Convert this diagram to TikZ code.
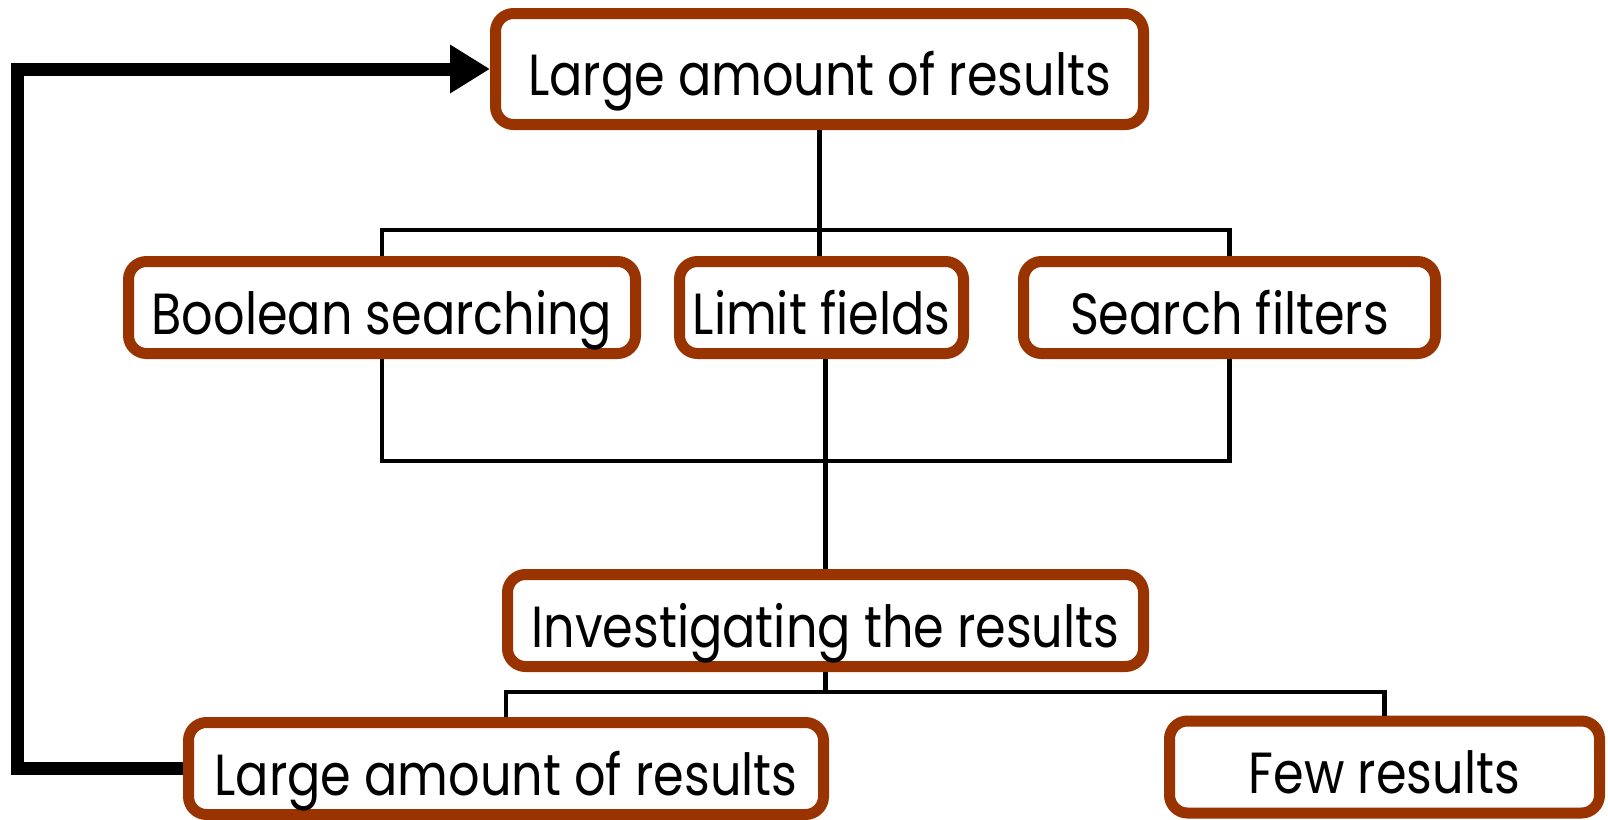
\documentclass[tikz,border=0pt]{standalone}
\usepackage{fontspec}
\newfontfamily\gothic[FakeStretch=0.85]{Poppins}
\usepackage{tikz}
\usetikzlibrary{arrows.meta}
\definecolor{RustBrown}{RGB}{153,51,0}

\begin{document}
\begin{tikzpicture}[x=1pt, y=-1pt,
            stage/.style={rectangle, draw=RustBrown, line width=11pt,
                          rounded corners=18pt, fill=white, inner sep=0pt,
                          minimum height=92pt, text height=53pt, text depth=0pt,
                          font=\gothic\fontsize{58}{64}\selectfont},
            link/.style={draw=black, line width=4.5pt},
            loopback/.style={-{Triangle[length=40pt, width=46pt]},
                             draw=black, line width=13pt}
          ]
          \useasboundingbox (0,0) rectangle (1608,819);

          \node[stage, minimum width=648pt, minimum height=111pt] (many) at (819.5, 69)
                {Large amount of results};

          \node[stage, minimum width=507pt] (bool) at (382, 307.5) {Boolean searching};
          \node[stage, minimum width=284pt] (lim)  at (821.5, 307.5) {Limit fields};
          \node[stage, minimum width=412pt] (filt) at (1229.5, 307.5) {Search filters};

          \node[stage, minimum width=636pt] (inv) at (825.5, 620.5)
                {Investigating the results};

          \node[stage, minimum width=635pt] (again) at (506, 768.5)
                {Large amount of results};
          \node[stage, minimum width=430pt] (few) at (1384.5, 767) {Few results};

          \coordinate (splitA) at (819.5, 230);
          \coordinate (joinB)  at (825.5, 461);
          \coordinate (splitC) at (825.5, 692);
          \coordinate (loopc)  at (17.5, 400);

          \draw[link] (many.south) -- (many.south |- lim.north);
          \draw[link] (bool.north) |- (splitA) -| (filt.north);
          \draw[link] (bool.south) |- (joinB) -| (filt.south);
          \draw[link] (inv.north |- lim.south) -- (inv.north);
          \draw[link] (inv.south) -- (splitC);
          \draw[link] (again.north) |- (splitC) -| (few.north);

          \draw[loopback] (again.west) -| (loopc) |- (many.west);
        \end{tikzpicture}
\end{document}
